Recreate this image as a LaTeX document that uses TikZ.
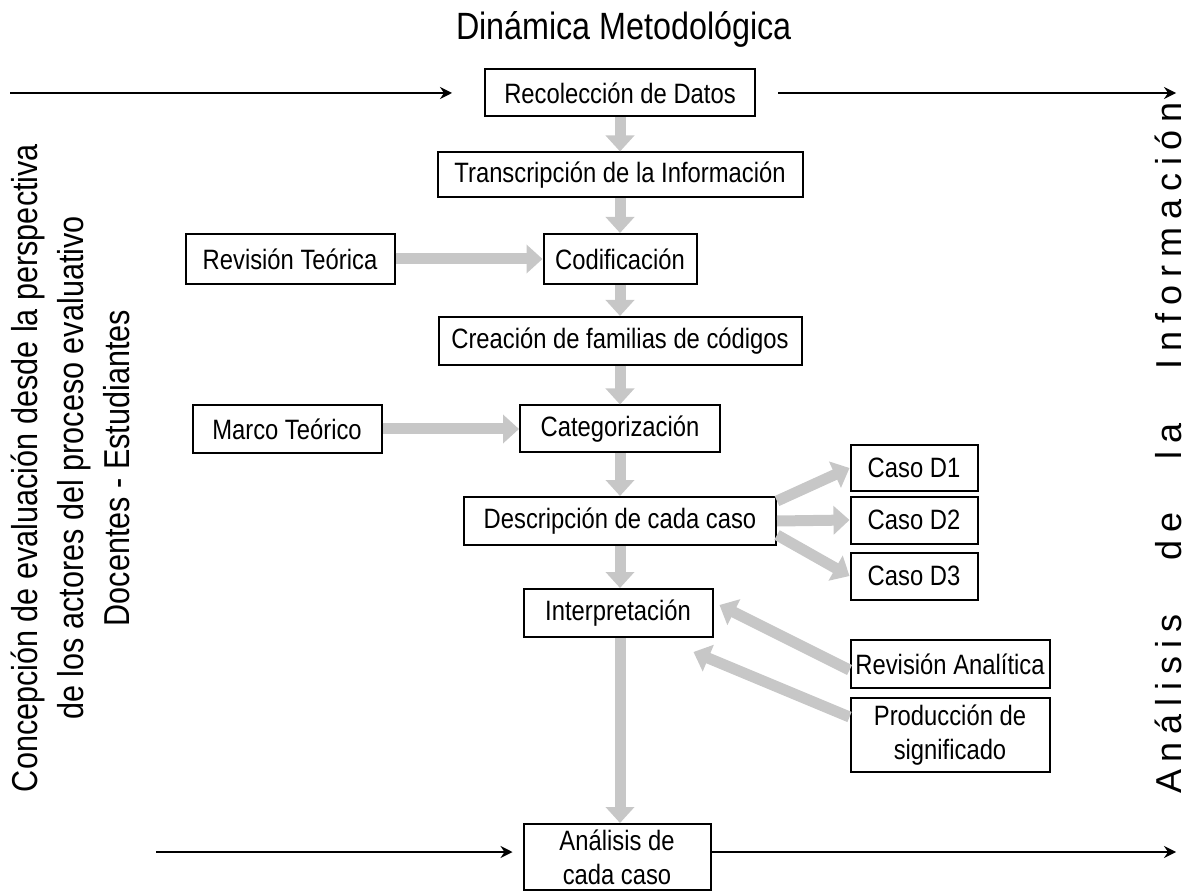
\documentclass[tikz,border=0pt]{standalone}
\usepackage{fontspec}
\setmainfont{Liberation Sans}[FakeStretch=0.85]
\newfontfamily\spacedfont{Liberation Sans}[LetterSpace=22,WordSpace=3]
\usetikzlibrary{arrows.meta,calc}

\tikzset{
  box/.style={draw, line width=1pt, inner sep=0pt, align=center,
    font=\fontsize{14}{17}\selectfont},
  sz/.style 2 args={minimum width=#1*0.5pt, minimum height=#2*0.5pt},
  garrow/.style={draw=black!22, line width=5.5pt,
    -{Triangle[width=14pt,length=8pt]}},
  blkarrow/.style={line width=0.7pt, -{Stealth[length=6pt,width=6pt,inset=2pt]}},
}

\begin{document}
\begin{tikzpicture}[x=0.5pt,y=-0.5pt]
  \useasboundingbox (0,0) rectangle (1203,892);
  \node[font=\fontsize{19}{22}\selectfont] (title) at (624,29) {Dinámica Metodológica};

  % central column
  \node[box,sz={270}{47}] (recol) at (620,93) {Recolección de Datos};
  \node[box,sz={365}{45}] (transc) at (620,175) {Transcripción de la Información};
  \node[box,sz={153}{50}] (codif) at (620,259) {Codificación};
  \node[box,sz={363}{48}] (creac) at (620,341) {Creación de familias de códigos};
  \node[box,sz={200}{47}] (categ) at (620,429) {Categorización};
  \node[box,sz={312}{48}] (descr) at (620,521) {Descripción de cada caso};
  \node[box,sz={189}{48}] (interp) at (618,613) {Interpretación};
  \node[box,sz={187}{66}] (anal) at (617,857) {Análisis de\\ cada caso};

  % side boxes
  \node[box,sz={209}{50}] (revteo) at (290,259) {Revisión Teórica};
  \node[box,sz={189}{48}] (marco) at (287,429) {Marco Teórico};
  \node[box,sz={127}{45}] (d1) at (914,468) {Caso D1};
  \node[box,sz={127}{47}] (d2) at (914,520) {Caso D2};
  \node[box,sz={127}{47}] (d3) at (914,576) {Caso D3};
  \node[box,sz={199}{48}] (revana) at (950,664) {Revisión Analítica};
  \node[box,sz={199}{74}] (prod) at (950,735) {Producción de\\ significado};

  % side labels
  \node[rotate=90, align=center, font=\fontsize{18}{23}\selectfont] (concep) at (70,468)
    {Concepción de evaluación desde la perspectiva\\ de los actores del proceso evaluativo\\ Docentes - Estudiantes};
  \node[rotate=90, font=\spacedfont\fontsize{18}{20}\selectfont] (analinfo) at (1168,448)
    {Análisis de la Información};

  % gray flow arrows
  \draw[garrow] (recol) -- (transc);
  \draw[garrow] (transc) -- (codif);
  \draw[garrow] (codif) -- (creac);
  \draw[garrow] (creac) -- (categ);
  \draw[garrow] (categ) -- (descr);
  \draw[garrow] (descr.south -| categ) -- (interp.north -| categ);
  \draw[garrow] (interp.south -| categ) -- (anal.north -| categ);
  \draw[garrow] (revteo) -- (codif);
  \draw[garrow] (marco) -- (categ);
  \draw[garrow] ([yshift=10pt]descr.east) -- (d1.west);
  \draw[garrow] (descr.east) -- (d2.west);
  \draw[garrow] ([yshift=-7pt]descr.east) -- (d3.west);
  \draw[garrow] ([yshift=-3pt]revana.west) -- ([xshift=3pt,yshift=4pt]interp.east);
  \draw[garrow] ([yshift=9pt]prod.west) -- ([xshift=-10pt,yshift=-7pt]interp.south east);

  % black arrows
  \coordinate (inTop) at (10,93);
  \coordinate (outTop) at (1176,93);
  \coordinate (inBot) at (156,852);
  \coordinate (outBot) at (1176,852);
  \draw[blkarrow] (inTop) -- ([xshift=-16pt]recol.west);
  \draw[blkarrow] ([xshift=11pt]recol.east) -- (outTop);
  \draw[blkarrow] (inBot) -- ([xshift=-5pt]anal.west |- inBot);
  \draw[blkarrow] (anal.east |- outBot) -- (outBot);
\end{tikzpicture}
\end{document}
